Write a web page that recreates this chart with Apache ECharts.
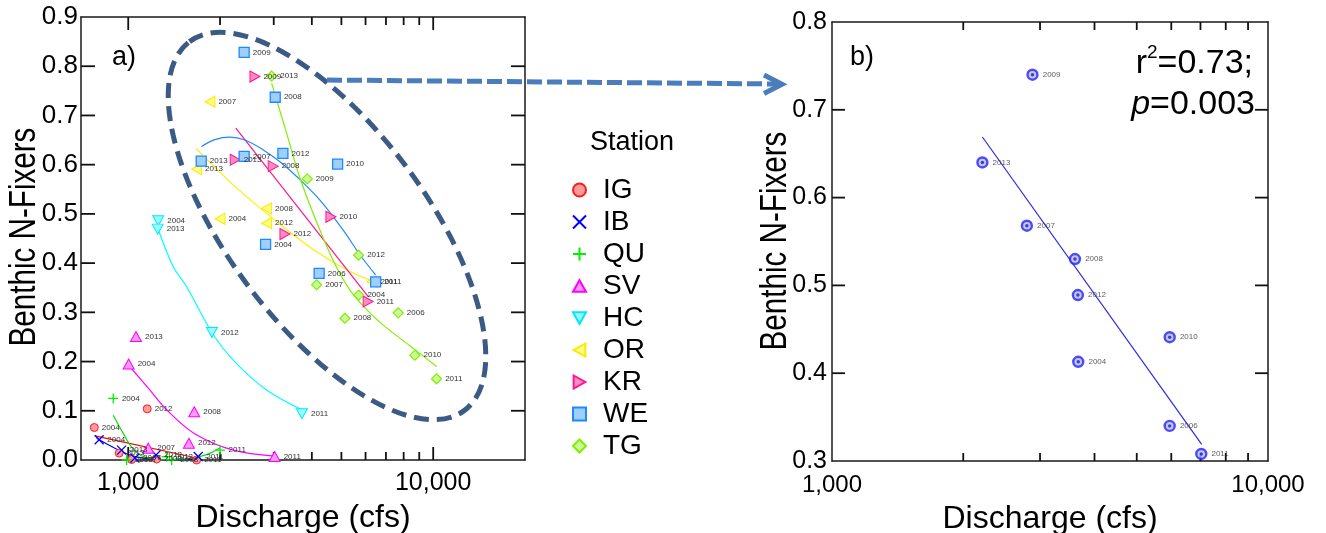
<!DOCTYPE html>
<html>
<head>
<meta charset="utf-8">
<script src="https://cdn.jsdelivr.net/npm/echarts@6/dist/echarts.min.js"></script>
<style>
  html, body { margin: 0; padding: 0; background: #fff; }
  #chart { width: 1326px; height: 533px; }
</style>
</head>
<body>
<div id="chart"></div>
<script>
const FONT = '"Liberation Sans", Arial, sans-serif';

// Station observations: [discharge (cfs), benthic N-fixer fraction, year]
const stationIG = [[774, 0.066, '2004'], [1154, 0.104, '2012'], [934, 0.014, '2013'], [1026, 0.001, '2007'], [1239, 0.002, '2008'], [1676, 0.000, '2011']];
const stationIB = [[803, 0.041, '2004'], [951, 0.020, '2013'], [1052, 0.004, '2007'], [1233, 0.010, '2012'], [1696, 0.007, '2011']];
const stationQU = [[893, 0.125, '2004'], [1999, 0.020, '2011'], [988, 0.000, '2013'], [1336, 0.007, '2012'], [1388, 0.000, '2008']];
const stationSV = [[1060, 0.251, '2013'], [1003, 0.195, '2004'], [1646, 0.098, '2008'], [1581, 0.034, '2012'], [1163, 0.024, '2007'], [3020, 0.007, '2011']];
const stationHC = [[1254, 0.486, '2004'], [1249, 0.469, '2013'], [1881, 0.259, '2012'], [3711, 0.094, '2011']];
const stationOR = [[1853, 0.728, '2007'], [1676, 0.591, '2013'], [1999, 0.490, '2004'], [2842, 0.511, '2008'], [2842, 0.481, '2012'], [6295, 0.362, '2011']];
const stationKR = [[2603, 0.779, '2009'], [2243, 0.610, '2013'], [2988, 0.597, '2008'], [4619, 0.494, '2010'], [3265, 0.459, '2012'], [6120, 0.322, '2011']];
const stationWE = [[2399, 0.828, '2009'], [3034, 0.737, '2008'], [1735, 0.607, '2013'], [2399, 0.617, '2007'], [3215, 0.623, '2012'], [4859, 0.601, '2010'], [2821, 0.438, '2004'], [4227, 0.379, '2006'], [6476, 0.362, '2011']];
const stationTG = [[2953, 0.780, '2013'], [3863, 0.571, '2009'], [5692, 0.416, '2012'], [4147, 0.356, '2007'], [5703, 0.335, '2004'], [5134, 0.288, '2008'], [7677, 0.299, '2006'], [8710, 0.213, '2010'], [10258, 0.165, '2011']];

// Fitted trend for each station: [discharge (cfs), fraction]
const fitIG = [[778, 0.049], [1676, 0.004]];
const fitIB = [[788, 0.044], [904, 0.024], [1052, 0.007], [1270, 0.001], [1709, 0.001]];
const fitQU = [[893, 0.091], [963, 0.054], [1026, 0.026], [1109, 0.008], [1319, 0.001], [1594, 0.003], [1826, 0.012], [1999, 0.025]];
const fitSV = [[1008, 0.191], [1178, 0.142], [1336, 0.102], [1646, 0.054], [2209, 0.020], [3020, 0.008]];
const fitHC = [[1245, 0.474], [1404, 0.393], [1554, 0.352], [1881, 0.259], [2209, 0.203], [2843, 0.142], [3711, 0.102]];
const fitOR = [[1667, 0.633], [2209, 0.559], [2843, 0.501], [3216, 0.474], [4147, 0.423], [5333, 0.383], [6441, 0.362]];
const fitKR = [[2253, 0.674], [6123, 0.332]];
const fitWE = [[1738, 0.637], [1924, 0.651], [2155, 0.656], [2413, 0.650], [2771, 0.630], [3144, 0.606], [3566, 0.576], [4252, 0.528], [5069, 0.467], [5750, 0.417], [6474, 0.376]];
const fitTG = [[2953, 0.765], [3306, 0.664], [3656, 0.573], [4188, 0.477], [4762, 0.398], [5333, 0.345], [6062, 0.305], [6857, 0.274], [8386, 0.232], [10259, 0.190]];

// Panel b: yearly values and their regression line
const meanYears = ['2009', '2013', '2007', '2008', '2012', '2004', '2010', '2006', '2011'];
const meanQ = [2883, 2213, 2799, 3608, 3664, 3671, 5950, 5950, 7030];
const meanNfix = [0.740, 0.640, 0.568, 0.530, 0.489, 0.413, 0.441, 0.340, 0.308];
const meanTrend = [[2213, 0.669], [7046, 0.319]];

// Axis ranges and tick values
const rangeA = { x: [700, 20000], y: [0, 0.9] };
const rangeB = { x: [1000, 10000], y: [0.3, 0.8] };
const xMajorTicks = [1000, 10000];
const xMinorTicks = [2000, 3000, 4000, 5000, 6000, 7000, 8000, 9000];
const yTicksA = [0.1, 0.2, 0.3, 0.4, 0.5, 0.6, 0.7, 0.8];
const yTicksB = [0.4, 0.5, 0.6, 0.7];
const stationNames = ['IG', 'IB', 'QU', 'SV', 'HC', 'OR', 'KR', 'WE', 'TG'];

const stations = [
  { name: 'IG', data: stationIG, fit: fitIG, symbol: 'circle', size: 8, fill: '#ff9b9b', stroke: '#ff1a1a', line: '#ff0000', bw: 1 },
  { name: 'IB', data: stationIB, fit: fitIB, symbol: 'path://M0,0L10,10M10,0L0,10', size: 9, fill: '#0000ff', stroke: '#0000ff', line: '#0000ff', bw: 1.3 },
  { name: 'QU', data: stationQU, fit: fitQU, symbol: 'path://M5,0L5,10M0,5L10,5', size: 10, fill: '#00ee00', stroke: '#00ee00', line: '#00e000', bw: 1.3 },
  { name: 'SV', data: stationSV, fit: fitSV, symbol: 'path://M5,0L10,9L0,9Z', size: [11, 10], fill: '#ff99ff', stroke: '#ff00ff', line: '#ff00ff', bw: 1 },
  { name: 'HC', data: stationHC, fit: fitHC, symbol: 'path://M0,0L10,0L5,9Z', size: [11, 10], fill: '#99ffff', stroke: '#00e8ff', line: '#00ffff', bw: 1 },
  { name: 'OR', data: stationOR, fit: fitOR, symbol: 'path://M9,0L0,5L9,10Z', size: [10, 11], fill: '#ffff80', stroke: '#ffe800', line: '#ffee00', bw: 1 },
  { name: 'KR', data: stationKR, fit: fitKR, symbol: 'path://M0,0L9,5L0,10Z', size: [10, 11], fill: '#ff8ec0', stroke: '#ff1493', line: '#ff1493', bw: 1 },
  { name: 'WE', data: stationWE, fit: fitWE, symbol: 'rect', size: 10, fill: '#9fcfff', stroke: '#1e88ff', line: '#1e88ff', bw: 1.3 },
  { name: 'TG', data: stationTG, fit: fitTG, symbol: 'diamond', size: 10, fill: '#ccff99', stroke: '#80ee00', line: '#80f000', bw: 1.2 }
];

const axisColor = '#1a1a1a';
const tickStyle = { stroke: '#111', lineWidth: 1.8 };
const thousands = v => Math.round(v).toLocaleString('en-US');

const yearLabel = {
  show: true, position: 'right', distance: 3,
  formatter: p => p.value[2], fontSize: 8, color: '#333', fontFamily: FONT
};

// Inward tick marks on both opposite frame edges, placed through the axes' own scales
function xTickSeries(xIdx, yIdx, ticks, len, yRange) {
  return {
    type: 'custom', xAxisIndex: xIdx, yAxisIndex: yIdx, silent: true, z: 1,
    data: ticks.map(v => [v, yRange[0]]),
    renderItem: (params, api) => {
      const v = api.value(0);
      const lo = api.coord([v, yRange[0]]);
      const hi = api.coord([v, yRange[1]]);
      return { type: 'group', children: [
        { type: 'line', shape: { x1: lo[0], y1: lo[1], x2: lo[0], y2: lo[1] - len }, style: tickStyle },
        { type: 'line', shape: { x1: hi[0], y1: hi[1], x2: hi[0], y2: hi[1] + len }, style: tickStyle }
      ] };
    }
  };
}
function yTickSeries(xIdx, yIdx, ticks, len, xRange) {
  return {
    type: 'custom', xAxisIndex: xIdx, yAxisIndex: yIdx, silent: true, z: 1,
    data: ticks.map(v => [xRange[0], v]),
    renderItem: (params, api) => {
      const v = api.value(1);
      const lo = api.coord([xRange[0], v]);
      const hi = api.coord([xRange[1], v]);
      return { type: 'group', children: [
        { type: 'line', shape: { x1: lo[0], y1: lo[1], x2: lo[0] + len, y2: lo[1] }, style: tickStyle },
        { type: 'line', shape: { x1: hi[0], y1: hi[1], x2: hi[0] - len, y2: hi[1] }, style: tickStyle }
      ] };
    }
  };
}

const series = [
  xTickSeries(0, 0, xMajorTicks, 13, rangeA.y),
  xTickSeries(0, 0, xMinorTicks, 8, rangeA.y),
  yTickSeries(0, 0, yTicksA, 14, rangeA.x),
  xTickSeries(2, 2, xMinorTicks, 8, rangeB.y),
  yTickSeries(2, 2, yTicksB, 13, rangeB.x)
];

stations.forEach(s => {
  series.push({
    name: s.name + ' trend', type: 'line', xAxisIndex: 0, yAxisIndex: 0,
    data: s.fit, showSymbol: false, smooth: 0.35, silent: true, z: 2,
    lineStyle: { color: s.line, width: 1.2 }
  });
});
stations.forEach(s => {
  series.push({
    name: s.name, type: 'scatter', xAxisIndex: 0, yAxisIndex: 0,
    data: s.data, symbol: s.symbol, symbolSize: s.size, z: 3,
    itemStyle: { color: s.fill, borderColor: s.stroke, borderWidth: s.bw, opacity: 1 },
    label: yearLabel
  });
});

const meanPoints = meanQ.map((q, i) => [q, meanNfix[i], meanYears[i]]);
series.push({
  name: 'trend b', type: 'line', xAxisIndex: 2, yAxisIndex: 2,
  data: meanTrend, showSymbol: false, silent: true, z: 2,
  lineStyle: { color: '#2a2ae0', width: 1.2 }
});
series.push({
  name: 'mean b', type: 'scatter', xAxisIndex: 2, yAxisIndex: 2,
  data: meanPoints, symbol: 'circle', symbolSize: 10, z: 3,
  itemStyle: { color: '#b8b8ff', borderColor: '#2424f4', borderWidth: 2.4 },
  label: { ...yearLabel, distance: 4 }
});
series.push({
  name: 'mean b dot', type: 'scatter', xAxisIndex: 2, yAxisIndex: 2,
  data: meanPoints, symbol: 'circle', symbolSize: 3.4, z: 4, silent: true,
  itemStyle: { color: '#1a1ab8' }
});

function xAxisDef(grid, pos, range, extra) {
  return Object.assign({
    gridIndex: grid, type: 'log', logBase: 10, min: range[0], max: range[1], position: pos,
    axisLine: { show: true, onZero: false, lineStyle: { color: axisColor, width: 1.5 } },
    axisTick: { show: false },
    axisLabel: { show: false },
    minorTick: { show: false }, splitLine: { show: false }, minorSplitLine: { show: false }
  }, extra || {});
}
function yAxisDef(grid, pos, range, extra) {
  return Object.assign({
    gridIndex: grid, type: 'value', min: range[0], max: range[1], interval: 0.1, position: pos,
    axisLine: { show: true, onZero: false, lineStyle: { color: axisColor, width: 1.5 } },
    axisTick: { show: false },
    axisLabel: { show: false },
    splitLine: { show: false }
  }, extra || {});
}

const xTitle = {
  name: 'Discharge (cfs)', nameLocation: 'middle', nameGap: 42,
  nameTextStyle: { fontSize: 32, color: '#000', fontFamily: FONT }
};

const option = {
  animation: false,
  backgroundColor: '#fff',
  grid: [
    { left: 81, top: 17, width: 444, height: 443, containLabel: false, outerBoundsMode: 'none' },
    { left: 832, top: 22, width: 436, height: 439, containLabel: false, outerBoundsMode: 'none' }
  ],
  xAxis: [
    xAxisDef(0, 'bottom', rangeA.x, Object.assign({
      axisLabel: { show: true, customValues: xMajorTicks, formatter: thousands, fontSize: 25, color: '#000', margin: 11, fontFamily: FONT }
    }, xTitle)),
    xAxisDef(0, 'top', rangeA.x),
    xAxisDef(1, 'bottom', rangeB.x, Object.assign({
      axisLabel: { show: true, formatter: thousands, fontSize: 24, color: '#000', margin: 12, fontFamily: FONT, showMinLabel: true, showMaxLabel: true }
    }, xTitle)),
    xAxisDef(1, 'top', rangeB.x)
  ],
  yAxis: [
    yAxisDef(0, 'left', rangeA.y, {
      axisLabel: { show: true, formatter: v => v.toFixed(1), fontSize: 26, color: '#000', margin: 3, fontFamily: FONT }
    }),
    yAxisDef(0, 'right', rangeA.y),
    yAxisDef(1, 'left', rangeB.y, {
      axisLabel: { show: true, formatter: v => v.toFixed(1), fontSize: 25, color: '#000', margin: 5, fontFamily: FONT, showMinLabel: true, showMaxLabel: true }
    }),
    yAxisDef(1, 'right', rangeB.y)
  ],
  legend: {
    data: stationNames, orient: 'vertical', left: 572, top: 176, padding: 0,
    itemWidth: 13, itemHeight: 13, itemGap: 4, selectedMode: false,
    textStyle: { fontSize: 28, color: '#000', fontFamily: FONT, padding: [0, 0, 0, 12] }
  },
  graphic: [
    // outline around the high-discharge stations
    { type: 'ellipse', x: 327, y: 226, rotation: -0.93, z: 0, silent: true,
      shape: { cx: 0, cy: 0, rx: 230, ry: 99 },
      style: { fill: 'none', stroke: '#3b5a84', lineWidth: 5, lineDash: [15, 8] } },
    // dashed pointer to panel b
    { type: 'polyline', z: 0, silent: true,
      shape: { points: [[327, 80], [778, 84]] },
      style: { stroke: '#4a7dbb', lineWidth: 5, lineDash: [15, 5], fill: null } },
    { type: 'polyline', z: 0, silent: true,
      shape: { points: [[764, 75], [782, 84.3], [764, 93.5]] },
      style: { stroke: '#4a7dbb', lineWidth: 5, fill: null } },
    { type: 'text', x: 112, y: 58, silent: true,
      style: { text: 'a)', fill: '#000', font: '27px ' + FONT, verticalAlign: 'middle' } },
    { type: 'text', x: 850, y: 58, silent: true,
      style: { text: 'b)', fill: '#000', font: '27px ' + FONT, verticalAlign: 'middle' } },
    { type: 'text', x: 632, y: 143, silent: true,
      style: { text: 'Station', fontSize: 27, fill: '#000', fontFamily: FONT, align: 'center', verticalAlign: 'middle' } },
    { type: 'text', x: 25, y: 237, rotation: Math.PI / 2, scaleX: 0.8, silent: true,
      style: { text: 'Benthic N-Fixers', fontSize: 37, fill: '#000', fontFamily: FONT, align: 'center', verticalAlign: 'middle' } },
    { type: 'text', x: 776, y: 241, rotation: Math.PI / 2, scaleX: 0.8, silent: true,
      style: { text: 'Benthic N-Fixers', fontSize: 37, fill: '#000', fontFamily: FONT, align: 'center', verticalAlign: 'middle' } },
    { type: 'text', x: 1253, y: 62, silent: true,
      style: {
        text: '{n|r}{s|2}{n|=0.73;}', align: 'right', verticalAlign: 'middle',
        rich: {
          n: { fontSize: 34, lineHeight: 38, fontFamily: FONT, fill: '#000', verticalAlign: 'bottom' },
          s: { fontSize: 19, lineHeight: 22, fontFamily: FONT, fill: '#000', verticalAlign: 'top' }
        }
      } },
    { type: 'text', x: 1255, y: 105, silent: true,
      style: {
        text: '{i|p}{n|=0.003}', align: 'right', verticalAlign: 'middle',
        rich: {
          i: { fontSize: 34, fontStyle: 'italic', fontFamily: FONT, fill: '#000' },
          n: { fontSize: 34, fontFamily: FONT, fill: '#000' }
        }
      } }
  ],
  series: series
};

const chart = echarts.init(document.getElementById('chart'), null, { renderer: 'canvas' });
chart.setOption(option);
</script>
</body>
</html>
